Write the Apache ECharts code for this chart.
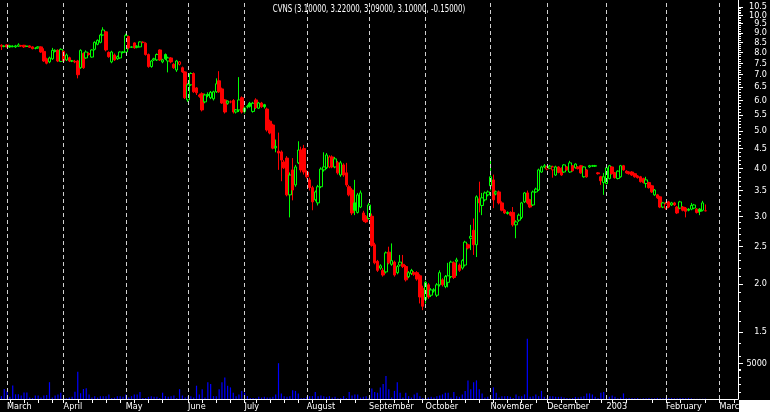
<!DOCTYPE html>
<html><head><meta charset="utf-8">
<script src="https://cdn.jsdelivr.net/npm/echarts@6/dist/echarts.min.js"></script>
<style>html,body{margin:0;padding:0;background:#000;}#c{width:770px;height:412px;}</style>
</head><body><div id="c"></div>
<script>
const ticker = 'CVNS';
const open = [
8.35,8.30,8.37,8.32,8.28,8.27,8.30,8.32,8.35,8.30,
8.32,8.27,8.20,8.22,8.27,8.05,7.70,7.56,7.70,8.05,
8.10,7.58,8.05,7.65,7.75,7.60,7.58,7.60,7.30,7.95,
7.74,7.95,7.78,8.15,8.40,8.50,8.88,9.05,8.00,7.56,
7.88,7.70,7.74,8.00,8.02,8.80,8.25,8.47,8.25,8.27,
8.50,8.45,7.90,7.35,7.65,7.65,8.12,7.56,7.90,7.60,
7.74,7.45,7.20,7.45,7.30,7.12,6.02,6.59,7.05,6.47,
6.20,6.25,5.95,6.18,6.10,6.06,6.32,6.75,6.43,6.02,
5.90,5.95,6.00,5.60,5.67,6.10,5.73,5.77,5.90,5.62,
6.02,5.73,5.91,5.85,5.70,5.30,5.18,4.52,4.43,4.41,
4.15,4.25,3.41,3.96,3.62,4.13,4.46,4.50,3.91,3.73,
3.56,3.31,3.25,3.58,3.96,4.01,4.03,4.28,4.03,4.13,
3.84,4.08,3.89,3.58,3.51,3.25,3.07,3.17,3.06,3.00,
2.96,3.00,2.53,2.29,2.20,2.17,2.15,2.42,2.25,2.28,
2.14,2.24,2.25,2.22,2.09,2.13,2.14,2.14,2.10,1.95,
1.82,1.99,1.87,1.92,1.87,1.99,2.05,1.97,2.02,2.09,
2.27,2.29,2.24,2.20,2.24,2.53,2.63,2.76,2.53,3.33,
3.20,3.31,3.41,3.60,3.73,3.43,3.47,3.25,3.11,3.05,
3.07,3.07,2.85,2.93,2.98,3.27,3.45,3.31,3.21,3.47,
3.51,3.91,4.03,3.98,4.00,3.96,3.84,4.03,4.00,3.91,
4.03,3.91,4.06,4.01,4.03,4.06,3.80,3.96,4.03,4.05,
4.05,3.89,3.80,3.67,3.65,3.76,4.03,3.89,3.76,3.80,
4.06,3.93,3.91,3.91,3.87,3.82,3.80,3.76,3.65,3.67,
3.60,3.41,3.41,3.37,3.17,3.15,3.27,3.21,3.25,3.17,
3.15,3.17,3.15,3.13,3.13,3.15,3.13,3.13,3.11,3.10];
const high = [
8.40,8.35,8.40,8.37,8.35,8.37,8.45,8.37,8.37,8.32,
8.35,8.30,8.25,8.30,8.30,8.20,7.75,7.80,8.22,8.15,
8.15,8.20,8.10,7.95,7.80,7.65,7.65,7.65,8.15,8.00,
8.10,8.00,8.15,8.55,8.65,8.95,9.30,9.10,8.05,8.08,
7.95,7.85,8.05,8.05,8.95,8.85,8.30,8.50,8.35,8.55,
8.55,8.50,7.95,7.65,7.75,7.95,8.15,7.70,7.95,7.80,
7.78,7.50,7.65,7.60,7.35,7.15,6.65,7.10,7.10,6.50,
6.25,6.30,6.25,6.30,6.35,6.36,6.85,7.15,6.48,6.05,
6.00,6.00,6.05,5.70,6.90,6.15,5.78,5.85,5.95,5.95,
6.08,5.95,5.95,5.88,5.75,5.35,5.22,4.75,4.95,4.45,
4.20,4.30,3.90,4.25,4.08,4.70,4.55,4.60,3.95,3.78,
3.60,3.50,3.62,4.02,4.40,4.38,4.32,4.32,4.28,4.18,
4.18,4.12,4.13,3.62,3.55,3.73,3.45,3.50,3.10,3.02,
3.25,3.05,2.56,2.31,2.25,2.20,2.43,2.50,2.55,2.30,
2.24,2.38,2.38,2.24,2.16,2.19,2.16,2.16,2.12,1.98,
2.04,2.01,1.95,1.95,2.01,2.17,2.07,2.11,2.27,2.30,
2.29,2.34,2.26,2.32,2.59,2.55,2.85,2.96,3.40,3.69,
3.45,3.48,3.50,4.28,3.85,3.50,3.50,3.28,3.13,3.09,
3.09,3.17,2.93,3.05,3.27,3.47,3.50,3.33,3.50,3.56,
3.99,4.06,4.10,4.06,4.08,4.06,4.06,4.05,4.02,4.10,
4.05,4.18,4.08,4.12,4.05,4.08,4.05,3.98,4.08,4.08,
4.08,3.91,3.82,3.89,4.03,4.08,4.05,3.91,3.95,4.08,
4.08,3.95,3.93,3.93,3.89,3.84,3.82,3.78,3.80,3.69,
3.62,3.53,3.43,3.39,3.27,3.27,3.29,3.27,3.27,3.19,
3.29,3.19,3.17,3.15,3.25,3.23,3.15,3.15,3.29,3.22];
const low = [
8.12,8.25,8.25,8.22,8.25,8.22,8.27,8.27,8.22,8.27,
8.22,8.15,8.15,8.18,7.98,7.56,7.45,7.50,7.65,8.00,
7.55,7.55,7.55,7.60,7.55,7.55,7.50,6.85,7.25,7.25,
7.70,7.85,7.75,8.10,8.35,8.45,8.85,8.05,7.75,7.50,
7.60,7.65,7.70,7.95,8.00,8.15,8.22,8.18,8.20,8.25,
8.45,7.85,7.30,7.30,7.60,7.60,7.60,7.50,7.65,7.10,
7.50,7.25,7.12,7.40,7.08,6.05,5.95,6.55,6.28,6.20,
6.10,5.62,5.90,6.12,6.05,6.00,6.28,6.28,5.88,5.55,
5.85,5.90,5.55,5.55,5.60,5.55,5.55,5.72,5.75,5.58,
5.70,5.70,5.74,5.72,4.98,4.90,4.48,4.40,3.96,3.70,
3.98,3.38,2.98,3.30,3.58,4.10,3.90,3.85,3.76,3.50,
3.11,3.28,3.20,3.55,3.92,3.98,4.00,4.00,4.00,3.85,
3.80,3.80,3.58,3.38,3.02,3.02,3.05,3.15,2.90,2.88,
2.94,2.50,2.25,2.15,2.18,2.09,2.13,2.25,2.23,2.09,
2.12,2.22,2.20,2.03,2.07,2.11,2.10,2.04,1.78,1.71,
1.78,1.83,1.85,1.90,1.85,1.97,1.97,1.95,1.96,2.07,
2.06,2.10,2.15,2.18,2.22,2.46,2.45,2.38,2.35,3.07,
3.02,3.28,3.38,3.50,3.15,3.40,3.22,3.09,3.04,3.03,
3.00,2.82,2.63,2.90,2.95,3.25,3.22,3.15,3.19,3.45,
3.49,3.89,4.00,3.95,3.98,3.78,3.82,3.88,3.82,3.89,
3.94,3.89,3.92,3.99,3.97,3.87,3.78,3.78,4.01,4.03,
4.03,3.85,3.62,3.41,3.63,3.74,3.85,3.76,3.74,3.78,
3.94,3.87,3.85,3.82,3.78,3.76,3.67,3.65,3.56,3.54,
3.45,3.39,3.33,3.15,3.15,3.12,3.15,3.19,3.19,3.04,
3.13,3.09,2.98,3.09,3.11,3.13,3.05,3.02,3.09,3.09];
const close = [
8.30,8.30,8.27,8.27,8.30,8.32,8.37,8.33,8.27,8.30,
8.25,8.18,8.20,8.27,8.02,7.60,7.50,7.74,8.10,8.10,
7.60,8.15,7.60,7.88,7.60,7.60,7.56,7.00,8.10,7.30,
8.02,7.90,8.12,8.50,8.60,8.88,9.15,8.12,7.80,8.02,
7.65,7.80,8.02,8.02,8.85,8.22,8.27,8.22,8.30,8.52,
8.50,7.90,7.35,7.60,7.70,7.90,7.65,7.65,7.70,7.74,
7.56,7.30,7.60,7.56,7.12,6.10,6.59,7.05,6.32,6.28,
6.15,5.67,6.20,6.22,6.30,6.32,6.63,6.32,5.91,5.60,
5.98,5.95,5.60,5.67,6.02,5.60,5.62,5.80,5.80,5.90,
5.75,5.91,5.78,5.78,5.03,4.94,4.51,4.56,4.38,4.20,
4.01,3.41,3.84,3.51,4.03,4.46,3.96,3.91,3.80,3.56,
3.27,3.47,3.58,3.98,4.03,4.33,4.28,4.03,4.23,3.89,
4.13,3.84,3.62,3.41,3.06,3.11,3.41,3.45,2.93,2.90,
3.21,2.52,2.27,2.17,2.23,2.11,2.41,2.27,2.30,2.11,
2.22,2.28,2.22,2.05,2.14,2.17,2.12,2.06,1.85,1.75,
2.02,1.85,1.93,1.93,1.99,2.14,1.99,2.09,2.10,2.28,
2.08,2.31,2.17,2.30,2.57,2.48,2.66,2.53,3.37,3.25,
3.35,3.45,3.47,3.80,3.31,3.47,3.25,3.11,3.06,3.07,
3.02,2.85,2.90,3.02,3.25,3.45,3.25,3.17,3.47,3.53,
3.96,4.03,4.06,4.03,4.05,4.03,4.03,3.90,3.84,4.08,
3.96,4.13,3.94,4.10,3.99,3.89,4.03,3.80,4.06,4.06,
4.06,3.87,3.71,3.80,4.01,4.06,3.87,3.78,3.93,4.06,
3.96,3.89,3.87,3.84,3.80,3.78,3.69,3.67,3.73,3.56,
3.47,3.51,3.35,3.17,3.25,3.23,3.17,3.25,3.21,3.06,
3.27,3.11,3.09,3.11,3.20,3.21,3.07,3.09,3.25,3.10];
const volume = [
400,1400,1100,300,1900,650,650,500,900,900,
200,150,500,500,200,500,550,2350,200,500,
640,880,150,100,200,300,1000,3800,800,1400,
1500,640,200,400,200,400,400,400,640,150,
200,400,400,300,640,200,400,640,640,980,
150,150,300,400,300,300,150,880,400,300,
400,500,150,1370,500,200,400,400,200,1860,
640,1370,200,2350,2100,400,400,1370,2350,3000,
1860,1620,880,400,640,1130,880,400,150,150,
100,300,200,300,200,200,300,640,5000,780,
400,300,400,1230,1130,780,100,150,300,400,
400,980,400,500,400,300,400,200,300,100,
150,400,150,980,500,640,640,200,300,400,
150,1470,980,880,1620,2100,3200,1370,200,1130,
2350,880,200,880,400,200,640,880,400,150,
150,200,300,200,400,500,640,880,880,200,
980,400,300,640,1130,2600,1370,2350,2600,1370,
780,200,300,200,1620,880,200,400,400,400,
300,150,640,400,400,640,8400,300,400,640,
400,1130,300,100,400,400,300,300,300,200,
150,100,150,300,200,300,400,780,780,640,
300,150,880,980,100,300,500,300,100,200,
780,100,150,150,100,150,50,100,100,150,
100,100,150,100,100,150,150,150,100,100,
150,150,100,150,100,50,50,50,50,50];
const priceTicks = [1.5,2.0,2.5,3.0,3.5,4.0,4.5,5.0,5.5,6.0,6.5,7.0,7.5,8.0,8.5,9.0,9.5,10.0,10.5];
const volumeTicks = [5000];
const monthLabels = ['2003','February','March','April','May','June','July','August','September','October','November','December'];
const holidays = ['2002-03-29','2002-05-27','2002-07-04','2002-09-02','2002-11-28','2002-12-25','2003-01-01','2003-01-20','2003-02-17'];
const firstDay = '2002-02-27', lastDay = '2003-03-11';

function tradingDays(a, b) {
  const out = [];
  let d = new Date(a + 'T00:00:00Z');
  const e = new Date(b + 'T00:00:00Z');
  while (d <= e) {
    const s = d.toISOString().slice(0, 10);
    const wd = d.getUTCDay();
    if (wd !== 0 && wd !== 6 && holidays.indexOf(s) < 0) out.push(s);
    d = new Date(d.getTime() + 86400000);
  }
  return out;
}
const categories = tradingDays(firstDay, lastDay);
const isMonthStart = i => i > 0 && categories[i].slice(5, 7) !== categories[i - 1].slice(5, 7);
const monthStarts = categories.filter((d, i) => isMonthStart(i));
const isMonday = v => new Date(v + 'T00:00:00Z').getUTCDay() === 1;

// split the labelled ticks into two alternating sets so neighbouring labels never collide
const ticksA = priceTicks.filter((v, i) => i % 2 === 0);
const ticksB = priceTicks.filter((v, i) => i % 2 === 1);
const minorTicks = [];
for (let k = 11; k <= 105; k++) { if (k % 5 !== 0) minorTicks.push(k / 10); }
const volMinor = [1000, 2000, 3000, 4000];

const candleData = open.map((o, i) => {
  const c = close[i];
  const prev = i > 0 ? close[i - 1] : o;
  const col = c >= prev ? '#00ff00' : '#ff0000';
  const fill = c > o ? '#000000' : col;
  return { value: [o, c, low[i], high[i]], itemStyle: { color: fill, color0: fill, borderColor: col, borderColor0: col, borderWidth: 1 } };
});

const n = close.length;
const chg = close[n - 1] - close[n - 2];
const titleText = ticker + ' (' + [open[n-1], high[n-1], low[n-1], close[n-1], chg].map(v => v.toFixed(5)).join(', ') + ')';

const FONT = '"Liberation Sans Narrow", "DejaVu Sans Condensed", sans-serif';
const labelStyle = { color: '#ffffff', fontSize: 9, fontFamily: FONT, align: 'right', margin: 29, hideOverlap: false };
const priceAxisBase = { type: 'log', logBase: 10, gridIndex: 0, position: 'right', min: 1.0046, max: 10.95, splitLine: { show: false } };
const chart = echarts.init(document.getElementById('c'));
chart.setOption({
  backgroundColor: '#000000',
  animation: false,
  grid: [
    { left: 0, right: 31, top: 0, bottom: 13 },
    { left: 0, right: 31, top: 331, bottom: 13 }
  ],
  xAxis: [
    { type: 'category', gridIndex: 0, data: categories, boundaryGap: true,
      axisLine: { show: true, lineStyle: { color: '#ffffff', width: 1 } },
      axisTick: { show: true, alignWithLabel: true, length: 4, interval: (i, v) => isMonday(v), lineStyle: { color: '#ffffff' } },
      axisLabel: { interval: (i) => isMonthStart(i), formatter: (v, i) => isMonthStart(i) ? monthLabels[new Date(v + 'T00:00:00Z').getUTCMonth()] : '',
        color: '#ffffff', fontSize: 9, fontFamily: FONT, align: 'left', margin: 3, hideOverlap: false },
      splitLine: { show: false } },
    { type: 'category', gridIndex: 1, data: categories, boundaryGap: true, show: false }
  ],
  yAxis: [
    Object.assign({}, priceAxisBase, {
      axisLine: { show: true, lineStyle: { color: '#ffffff' } },
      axisTick: { show: true, length: 5, customValues: ticksA, lineStyle: { color: '#ffffff' } },
      axisLabel: Object.assign({ show: true, customValues: ticksA, formatter: v => Number(v).toFixed(1) }, labelStyle) }),
    Object.assign({}, priceAxisBase, {
      axisLine: { show: false },
      axisTick: { show: true, length: 5, customValues: ticksB, lineStyle: { color: '#ffffff' } },
      axisLabel: Object.assign({ show: true, customValues: ticksB, formatter: v => Number(v).toFixed(1) }, labelStyle) }),
    Object.assign({}, priceAxisBase, {
      axisLine: { show: false },
      axisTick: { show: true, length: 3, customValues: minorTicks, lineStyle: { color: '#ffffff' } },
      axisLabel: { show: false } }),
    { type: 'value', gridIndex: 1, position: 'right', min: 0, max: 9500,
      axisLine: { show: false },
      axisTick: { show: true, length: 5, customValues: volumeTicks, lineStyle: { color: '#ffffff' } },
      axisLabel: Object.assign({ show: true, customValues: volumeTicks, formatter: v => String(v) }, labelStyle),
      splitLine: { show: false } },
    { type: 'value', gridIndex: 1, position: 'right', min: 0, max: 9500,
      axisLine: { show: false },
      axisTick: { show: true, length: 3, customValues: volMinor, lineStyle: { color: '#ffffff' } },
      axisLabel: { show: false }, splitLine: { show: false } }
  ],
  series: [
    { type: 'bar', xAxisIndex: 1, yAxisIndex: 3, data: volume, barWidth: 1.2,
      itemStyle: { color: '#0000ff' }, silent: true },
    { type: 'candlestick', xAxisIndex: 0, yAxisIndex: 0, data: candleData, barWidth: 3, silent: true,
      markLine: { symbol: ['none', 'none'], silent: true, label: { show: false },
        lineStyle: { color: '#d0d0d0', type: [4, 3], width: 1 },
        data: monthStarts.map(d => ({ xAxis: d })) } }
  ],
  graphic: [
    { type: 'text', x: 369, y: 4, scaleX: 0.78, z: 50,
      style: { text: titleText, textAlign: 'center', textVerticalAlign: 'top', fill: '#ffffff',
        font: '10px "DejaVu Sans Condensed", sans-serif' } },
    { type: 'rect', left: 739, top: 400, shape: { width: 31, height: 12 }, style: { fill: '#ffffff' }, z: 100 }
  ]
});
</script></body></html>
